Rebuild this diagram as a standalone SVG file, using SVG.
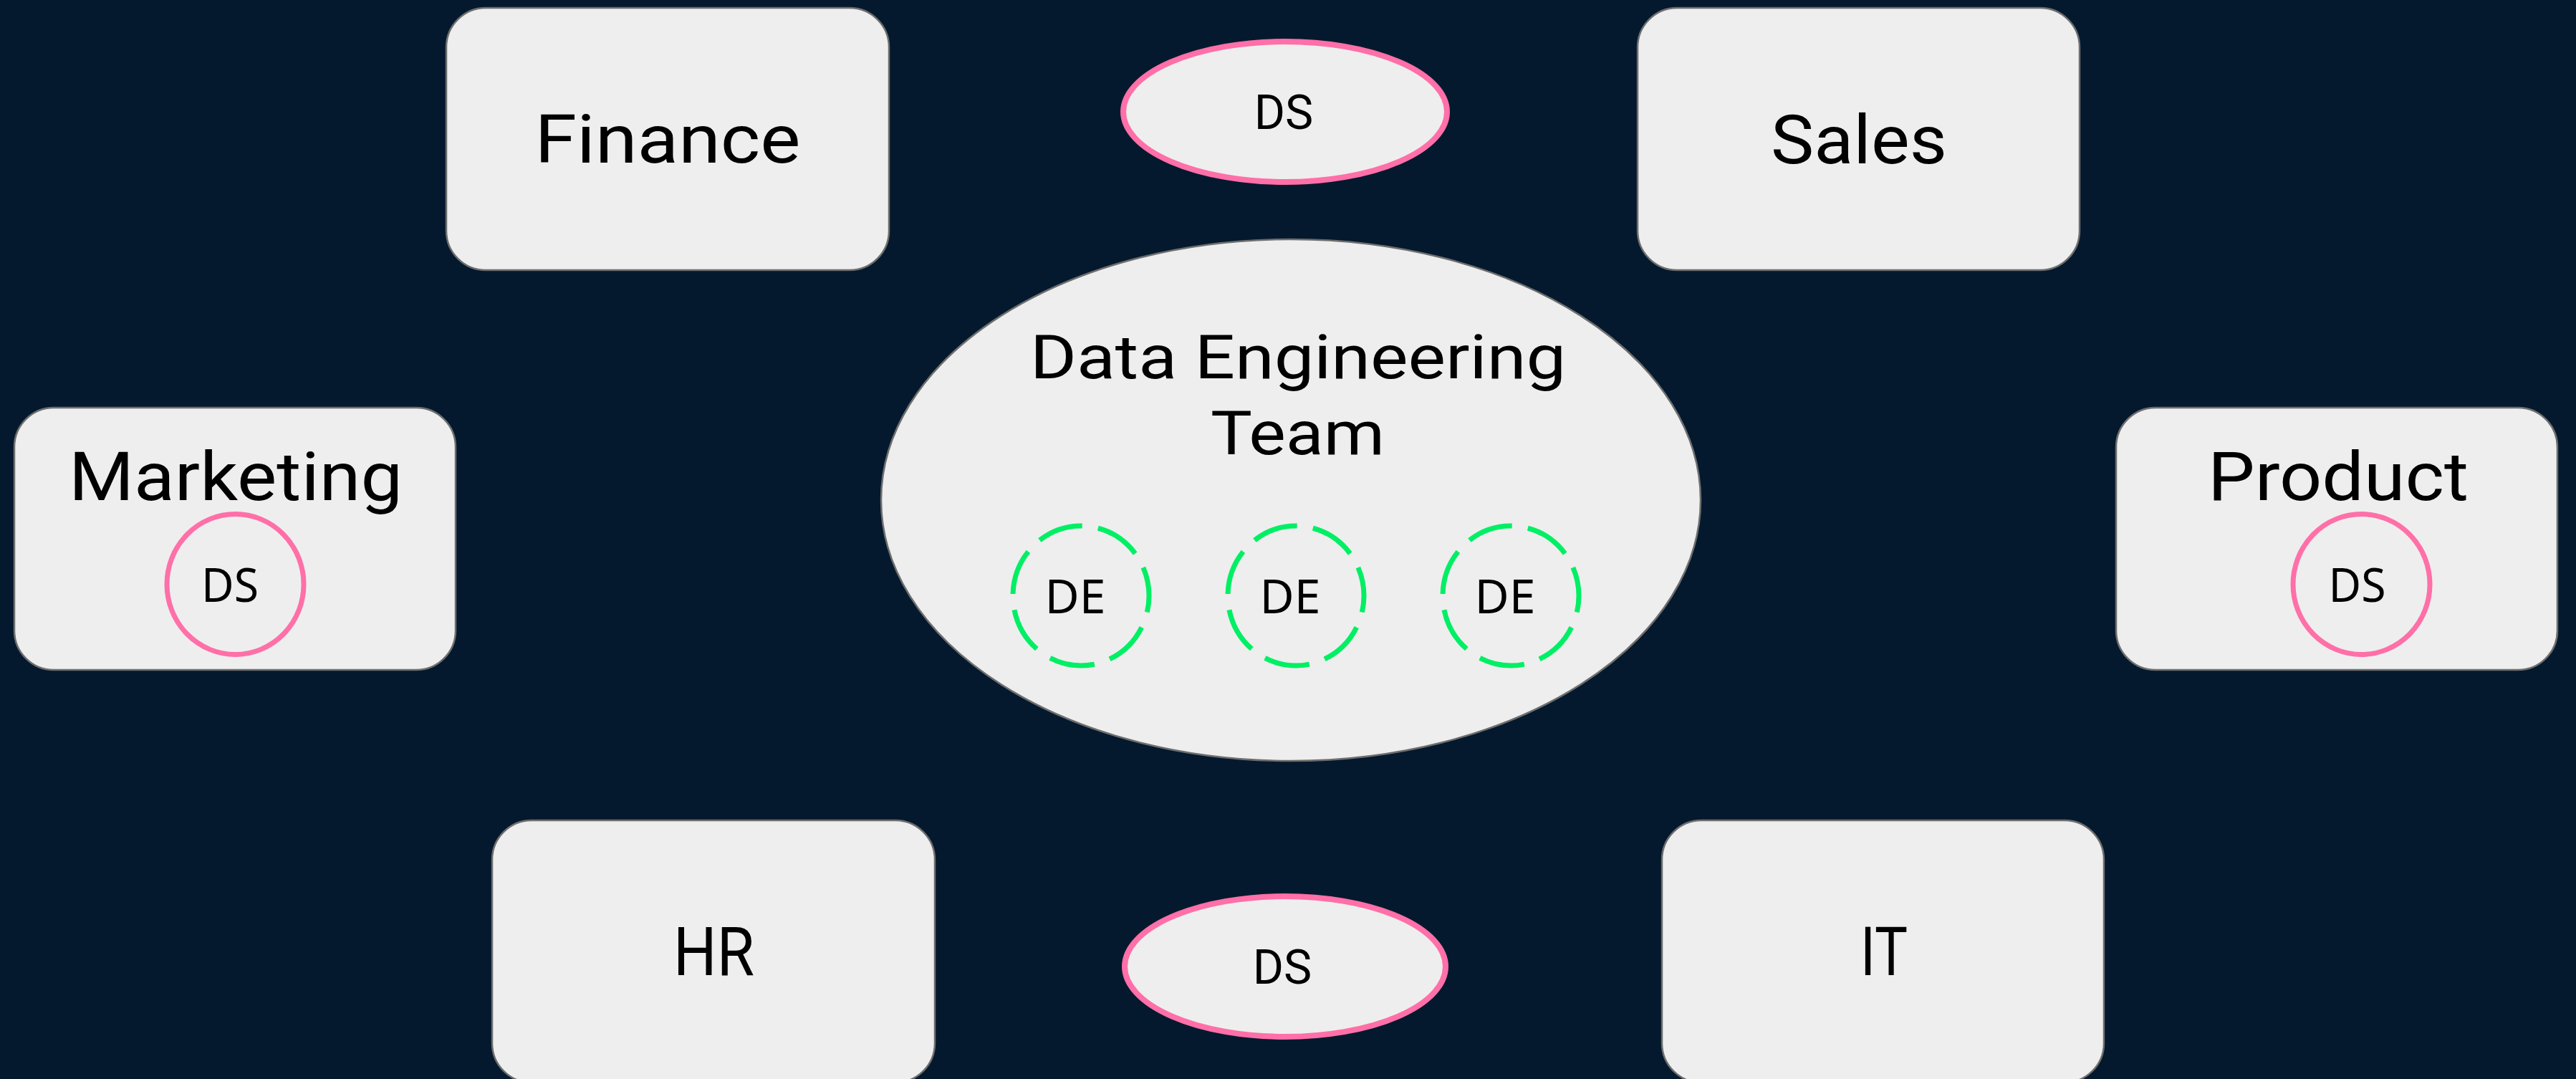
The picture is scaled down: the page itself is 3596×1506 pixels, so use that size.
<svg xmlns="http://www.w3.org/2000/svg" width="3596" height="1506" viewBox="0 0 3596 1506">
  <style>
    .box { fill: #eeeeee; stroke: #6e6e6e; stroke-width: 2.5; }
    .label { font-family: Roboto, "Open Sans", sans-serif; font-size: 95px; fill: #000; text-anchor: middle; }
    .team { font-family: Roboto, "Open Sans", sans-serif; font-size: 86px; fill: #000; text-anchor: middle; }
    .ds-oval { fill: #eeeeee; stroke: #ff6fa8; stroke-width: 8; }
    .ds-ring { fill: none; stroke: #ff6fa8; stroke-width: 7; }
    .de-ring { fill: none; stroke: #00ef64; stroke-width: 7; stroke-dasharray: 74 26; stroke-dashoffset: 47; }
    .small { font-family: "Noto Sans", "Open Sans", sans-serif; font-size: 66px; fill: #000; text-anchor: middle; }
    .small-r { font-family: Roboto, "Noto Sans", sans-serif; font-size: 66px; fill: #000; text-anchor: middle; }
  </style>
  <rect x="0" y="0" width="3596" height="1506" fill="#04192e"/>

  <g id="finance">
    <rect class="box" x="623" y="11" width="618" height="366" rx="55" ry="55"/>
    <text class="label" x="932" y="227" textLength="371" lengthAdjust="spacingAndGlyphs">Finance</text>
  </g>

  <g id="sales">
    <rect class="box" x="2286" y="11" width="617" height="366" rx="55" ry="55"/>
    <text class="label" x="2595" y="228" textLength="246" lengthAdjust="spacingAndGlyphs">Sales</text>
  </g>

  <g id="ds-top">
    <ellipse class="ds-oval" cx="1794" cy="156" rx="226" ry="98"/>
    <text class="small-r" x="1792" y="180">DS</text>
  </g>

  <g id="marketing">
    <rect class="box" x="20" y="569" width="616" height="366" rx="55" ry="55"/>
    <text class="label" x="329" y="698" textLength="466" lengthAdjust="spacingAndGlyphs">Marketing</text>
    <ellipse class="ds-ring" cx="328.5" cy="815.5" rx="95.5" ry="98"/>
    <text class="small" x="321" y="840" textLength="80" lengthAdjust="spacingAndGlyphs">DS</text>
  </g>

  <g id="product">
    <rect class="box" x="2954" y="569" width="616" height="366" rx="55" ry="55"/>
    <text class="label" x="3264" y="698" textLength="364" lengthAdjust="spacingAndGlyphs">Product</text>
    <ellipse class="ds-ring" cx="3296.5" cy="815.5" rx="95.5" ry="98"/>
    <text class="small" x="3290.5" y="840" textLength="80" lengthAdjust="spacingAndGlyphs">DS</text>
  </g>

  <g id="data-engineering-team">
    <ellipse class="box" cx="1802" cy="698" rx="572" ry="364"/>
    <text class="team" x="1812" y="528" textLength="748" lengthAdjust="spacingAndGlyphs">Data Engineering</text>
    <text class="team" x="1811.5" y="634" textLength="243" lengthAdjust="spacingAndGlyphs">Team</text>
    <g id="de-1">
      <ellipse class="de-ring" cx="1509" cy="831.5" rx="95" ry="97.5" pathLength="700"/>
      <text class="small" x="1501" y="856">DE</text>
    </g>
    <g id="de-2">
      <ellipse class="de-ring" cx="1809" cy="831.5" rx="95" ry="97.5" pathLength="700"/>
      <text class="small" x="1801" y="856">DE</text>
    </g>
    <g id="de-3">
      <ellipse class="de-ring" cx="2109" cy="831.5" rx="95" ry="97.5" pathLength="700"/>
      <text class="small" x="2101" y="856">DE</text>
    </g>
  </g>

  <g id="hr">
    <rect class="box" x="687" y="1145" width="618" height="366" rx="55" ry="55"/>
    <text class="label" x="996.5" y="1361" textLength="113" lengthAdjust="spacingAndGlyphs">HR</text>
  </g>

  <g id="ds-bottom">
    <ellipse class="ds-oval" cx="1794" cy="1349" rx="224" ry="98"/>
    <text class="small-r" x="1790" y="1373">DS</text>
  </g>

  <g id="it">
    <rect class="box" x="2320" y="1145" width="617" height="366" rx="55" ry="55"/>
    <text class="label" x="2630" y="1361" textLength="66" lengthAdjust="spacingAndGlyphs">IT</text>
  </g>
</svg>
